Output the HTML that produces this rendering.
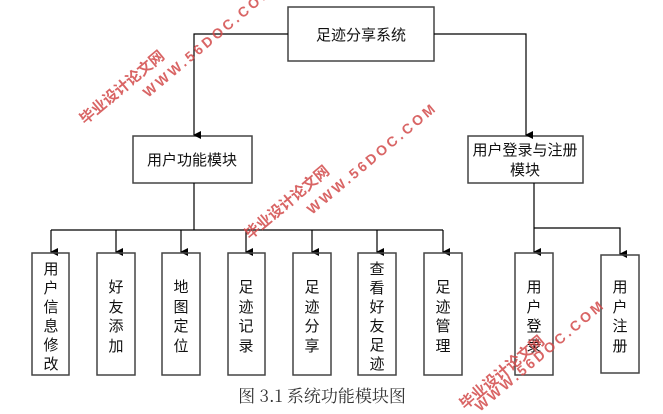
<!DOCTYPE html>
<html><head><meta charset="utf-8"><style>
html,body{margin:0;padding:0;background:#fff;}
svg{display:block;}
.t{font-family:"Liberation Sans","Noto Sans CJK SC",sans-serif;font-size:15px;fill:#111;}
.w{font-family:"Liberation Sans","Noto Sans CJK SC",sans-serif;font-weight:bold;fill:#d24a4a;opacity:0.85;}
</style></head><body>
<svg width="663" height="414" viewBox="0 0 663 414" xmlns="http://www.w3.org/2000/svg">
<defs><marker id="a" markerWidth="8" markerHeight="8" refX="4" refY="7" orient="auto" markerUnits="userSpaceOnUse">
<path d="M0,0 L8,0 L4,8 z" fill="#000"/></marker></defs>
<g stroke="#444" stroke-width="1.5" fill="none">
<rect x="288" y="7" width="146" height="54"/>
<rect x="133" y="136" width="119" height="47"/>
<rect x="468" y="136" width="115" height="47"/>
</g>
<g stroke="#000" stroke-width="1.2" fill="none">
<polyline points="288,34 194,34 194,135" marker-end="url(#a)"/>
<polyline points="434,34 526,34 526,135" marker-end="url(#a)"/>
<line x1="194" y1="183" x2="194" y2="230"/>
<line x1="51" y1="230" x2="443" y2="230"/>
<line x1="51" y1="230" x2="51" y2="252" marker-end="url(#a)"/>
<line x1="116" y1="230" x2="116" y2="252" marker-end="url(#a)"/>
<line x1="181" y1="230" x2="181" y2="252" marker-end="url(#a)"/>
<line x1="246" y1="230" x2="246" y2="252" marker-end="url(#a)"/>
<line x1="312" y1="230" x2="312" y2="252" marker-end="url(#a)"/>
<line x1="377" y1="230" x2="377" y2="252" marker-end="url(#a)"/>
<line x1="443" y1="230" x2="443" y2="252" marker-end="url(#a)"/>
<line x1="534" y1="183" x2="534" y2="252" marker-end="url(#a)"/>
<polyline points="534,228 620,228 620,254" marker-end="url(#a)"/>
</g>
<g stroke="#444" stroke-width="1.5" fill="none">
<rect x="32" y="253" width="37" height="122"/>
<rect x="97" y="253" width="38" height="122"/>
<rect x="162" y="253" width="38" height="122"/>
<rect x="228" y="253" width="37" height="122"/>
<rect x="293" y="253" width="38" height="122"/>
<rect x="358" y="253" width="38" height="122"/>
<rect x="424" y="253" width="38" height="122"/>
<rect x="515" y="253" width="38" height="122"/>
<rect x="601" y="255" width="38" height="118"/>
</g>
<g class="t" text-anchor="middle">
<text x="361" y="40">足迹分享系统</text>
<text x="192" y="165">用户功能模块</text>
<text x="525" y="155">用户登录与注册</text>
<text x="525" y="175">模块</text>
</g>
<g class="t" text-anchor="middle">
<text x="51" y="274">用</text><text x="51" y="293">户</text><text x="51" y="312">信</text><text x="51" y="331">息</text><text x="51" y="350">修</text><text x="51" y="369">改</text>
<text x="116" y="292">好</text><text x="116" y="312">友</text><text x="116" y="331">添</text><text x="116" y="351">加</text>
<text x="181" y="292">地</text><text x="181" y="312">图</text><text x="181" y="331">定</text><text x="181" y="351">位</text>
<text x="246" y="292">足</text><text x="246" y="312">迹</text><text x="246" y="331">记</text><text x="246" y="351">录</text>
<text x="312" y="292">足</text><text x="312" y="312">迹</text><text x="312" y="331">分</text><text x="312" y="351">享</text>
<text x="377" y="274">查</text><text x="377" y="293">看</text><text x="377" y="312">好</text><text x="377" y="331">友</text><text x="377" y="350">足</text><text x="377" y="369">迹</text>
<text x="443" y="292">足</text><text x="443" y="312">迹</text><text x="443" y="331">管</text><text x="443" y="351">理</text>
<text x="534" y="292">用</text><text x="534" y="312">户</text><text x="534" y="331">登</text><text x="534" y="351">录</text>
<text x="620" y="292">用</text><text x="620" y="312">户</text><text x="620" y="331">注</text><text x="620" y="351">册</text>
</g>
<text x="322" y="402" text-anchor="middle" style="font-family:'Noto Serif CJK SC','Liberation Serif',serif;font-size:17px;fill:#333;">图 3.1 系统功能模块图</text>
<g class="w">
<text transform="translate(85,125) rotate(-40)" font-size="15">毕业设计论文网</text>
<text transform="translate(148,98) rotate(-40)" font-size="14" letter-spacing="3">WWW.56DOC.COM</text>
<text transform="translate(250,240) rotate(-40)" font-size="15">毕业设计论文网</text>
<text transform="translate(312,215) rotate(-40)" font-size="14" letter-spacing="3">WWW.56DOC.COM</text>
<text transform="translate(465,410) rotate(-40)" font-size="15">毕业设计论文网</text>
<text transform="translate(480,412) rotate(-40)" font-size="14" letter-spacing="3">WWW.56DOC.COM</text>
</g>
</svg>
</body></html>
